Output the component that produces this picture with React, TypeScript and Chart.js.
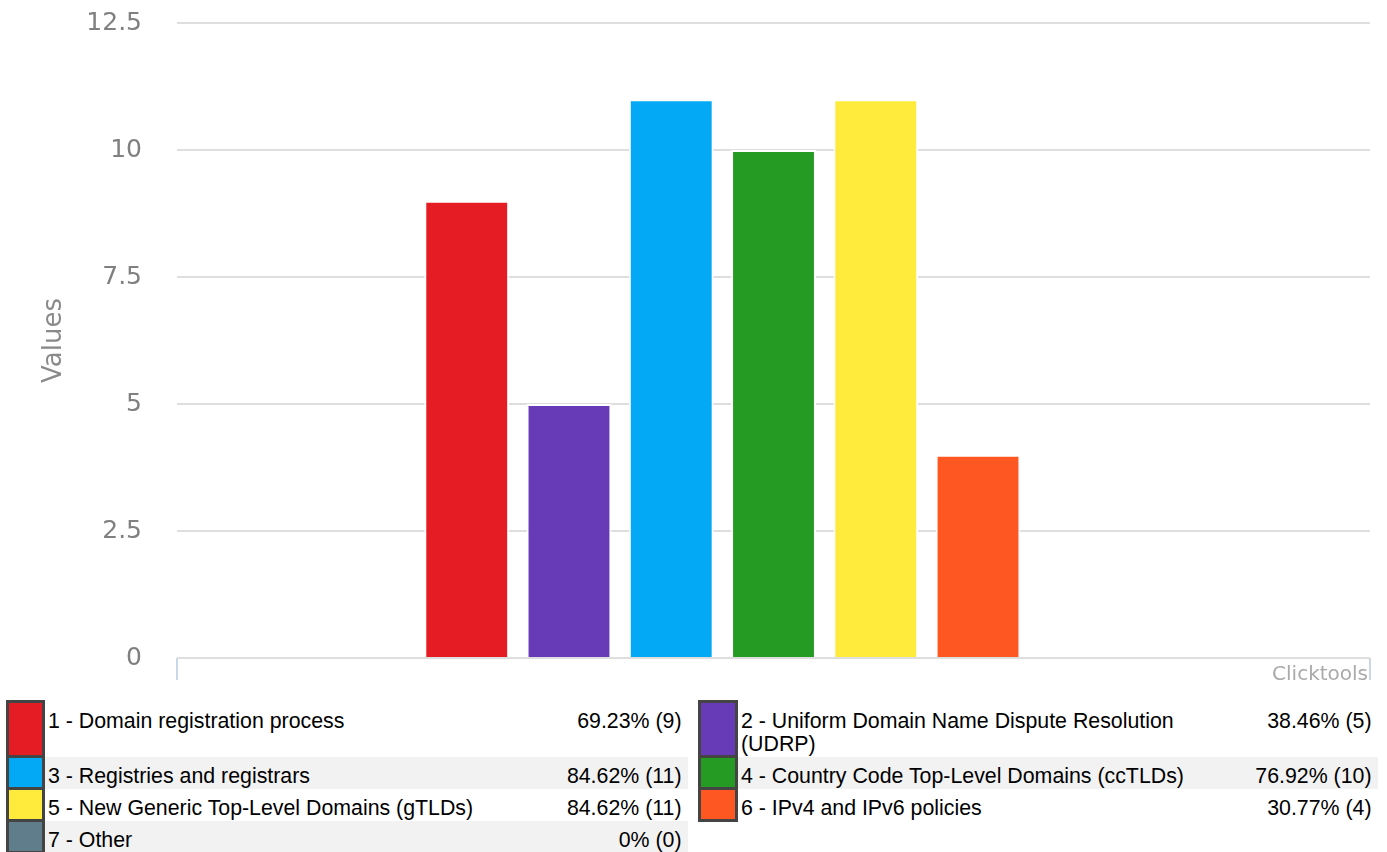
import React, { useEffect, useRef } from "react";
import { Chart, registerables } from "chart.js";

Chart.register(...registerables);

const categories = [""];
const seriesLabels = [
  "1 - Domain registration process",
  "2 - Uniform Domain Name Dispute Resolution (UDRP)",
  "3 - Registries and registrars",
  "4 - Country Code Top-Level Domains (ccTLDs)",
  "5 - New Generic Top-Level Domains (gTLDs)",
  "6 - IPv4 and IPv6 policies",
  "7 - Other",
];
const seriesValues = [9, 5, 11, 10, 11, 4, 0];
const seriesPercents = ["69.23%", "38.46%", "84.62%", "76.92%", "84.62%", "30.77%", "0%"];
const seriesColors = ["#e51c23", "#673ab7", "#03a9f4", "#259b24", "#ffeb3b", "#ff5722", "#607d8b"];
const yMin = 0;
const yMax = 12.5;
const yStep = 2.5;
const yTitle = "Values";
const creditText = "Clicktools";

const creditPlugin = {
  id: "credit",
  afterDraw(chart: any) {
    const { ctx, chartArea } = chart;
    ctx.save();
    ctx.font = '20px "DejaVu Sans"';
    ctx.fillStyle = "#aaaaaa";
    ctx.textAlign = "right";
    ctx.textBaseline = "alphabetic";
    ctx.fillText(creditText, chartArea.right - 2, chartArea.bottom + 22);
    ctx.restore();
  },
};

function BarChart() {
  const ref = useRef<HTMLCanvasElement | null>(null);
  useEffect(() => {
    if (!ref.current) return;
    const chart = new Chart(ref.current, {
      type: "bar",
      data: {
        labels: categories,
        datasets: seriesLabels.map((label, i) => ({
          label,
          data: [seriesValues[i]],
          backgroundColor: seriesColors[i],
          borderColor: "#ffffff",
          borderWidth: 2,
          borderSkipped: "start",
          categoryPercentage: 0.6,
          barPercentage: 0.83,
        })),
      },
      options: {
        animation: false,
        responsive: false,
        maintainAspectRatio: false,
        layout: { padding: { top: 23, right: 17, bottom: 15, left: 0 } },
        plugins: {
          legend: { display: false },
          tooltip: { enabled: false },
        },
        scales: {
          x: {
            offset: true,
            ticks: { display: false },
            border: { display: false },
            grid: {
              offset: true,
              drawOnChartArea: false,
              drawTicks: true,
              tickLength: 22,
              color: "#c9d7e6",
              lineWidth: 2,
            },
          },
          y: {
            min: yMin,
            max: yMax,
            ticks: {
              stepSize: yStep,
              padding: 0,
              color: "#808080",
              font: { family: "DejaVu Sans", size: 25 },
            },
            border: { display: false },
            grid: {
              color: "#dedede",
              lineWidth: 2,
              drawTicks: true,
              tickLength: 35,
              tickColor: "rgba(0,0,0,0)",
            },
            title: {
              display: true,
              text: yTitle,
              color: "#8a8a8a",
              font: { family: "DejaVu Sans", size: 26 },
              padding: { top: 39, bottom: 0 },
            },
            afterFit: (scale: any) => {
              scale.width = 177;
            },
          },
        },
      },
      plugins: [creditPlugin],
    } as any);
    return () => chart.destroy();
  }, []);
  return (
    <div style={{ position: "absolute", left: 0, top: 0, width: 1387, height: 695 }}>
      <canvas ref={ref} width={1387} height={695} style={{ display: "block", width: 1387, height: 695 }} />
    </div>
  );
}

const cellBase: React.CSSProperties = {
  padding: "8px 4px 1px 3px",
  lineHeight: "23px",
  verticalAlign: "top",
  fontFamily: '"Liberation Sans", Arial, sans-serif',
  fontSize: "21.33px",
  color: "#000",
};

function LegendHalf({ idx, gray }: { idx: number | null; gray: boolean }) {
  const bg = gray ? "#f2f2f2" : "#ffffff";
  if (idx === null) {
    return (
      <>
        <td style={{ ...cellBase, background: "#fff" }} />
        <td style={{ ...cellBase, background: "#fff" }} />
        <td style={{ ...cellBase, background: "#fff" }} />
      </>
    );
  }
  const count = seriesValues[idx];
  return (
    <>
      <td style={{ ...cellBase, padding: 0, background: seriesColors[idx], border: "3px solid #444444" }} />
      <td style={{ ...cellBase, background: bg }}>{seriesLabels[idx]}</td>
      <td style={{ ...cellBase, background: bg, textAlign: "right", paddingRight: 6 }}>
        {`${seriesPercents[idx]} (${count})`}
      </td>
    </>
  );
}

function Legend() {
  const rows: [number, number | null][] = [];
  for (let i = 0; i < seriesLabels.length; i += 2) {
    rows.push([i, i + 1 < seriesLabels.length ? i + 1 : null]);
  }
  return (
    <table
      style={{
        position: "absolute",
        left: 6,
        top: 700,
        width: 1370,
        borderCollapse: "collapse",
        tableLayout: "fixed",
        borderSpacing: 0,
      }}
    >
      <colgroup>
        <col style={{ width: 36 }} />
        <col style={{ width: 490 }} />
        <col style={{ width: 154 }} />
        <col style={{ width: 12 }} />
        <col style={{ width: 37 }} />
        <col style={{ width: 490 }} />
        <col style={{ width: 151 }} />
      </colgroup>
      <tbody>
        {rows.map(([a, b], r) => (
          <tr key={r}>
            <LegendHalf idx={a} gray={r % 2 === 1} />
            <td style={{ ...cellBase, padding: 0, background: "#fff" }} />
            <LegendHalf idx={b} gray={r % 2 === 1} />
          </tr>
        ))}
      </tbody>
    </table>
  );
}

export default function App() {
  return (
    <div style={{ position: "absolute", left: 0, top: 0, width: 1387, height: 852, background: "#fff" }}>
      <BarChart />
      <Legend />
    </div>
  );
}
